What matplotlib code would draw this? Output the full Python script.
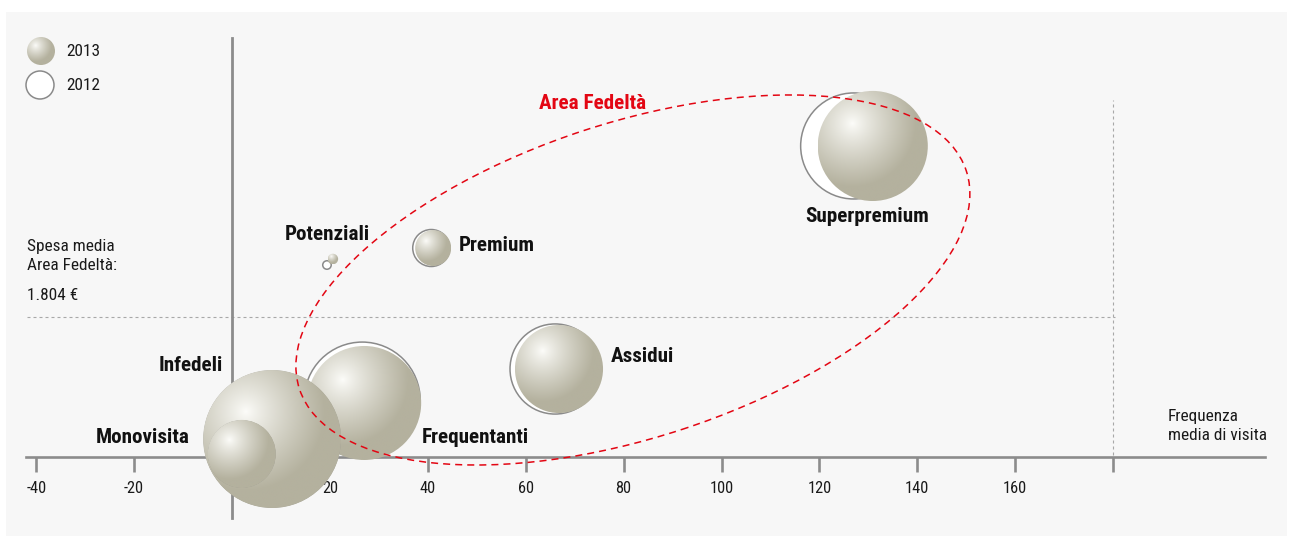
import numpy as np
import matplotlib
matplotlib.use('Agg')
import matplotlib.pyplot as plt
import matplotlib.transforms as mtransforms
from matplotlib.patches import Circle, Ellipse, Rectangle
from matplotlib.ticker import FixedLocator, FixedFormatter
from matplotlib import font_manager

names = {f.name for f in font_manager.fontManager.ttflist}
cond = [n for n in ['Roboto Condensed', 'Liberation Sans Narrow', 'DejaVu Sans Condensed',
                    'Roboto'] if n in names]
plt.rcParams['font.family'] = cond + ['DejaVu Sans']
plt.rcParams['axes.unicode_minus'] = False

# segmenti clienti: frequenza media di visita (x), spesa media in euro (y),
# numero clienti (area della bolla)
segmenti = ['Monovisita', 'Infedeli', 'Frequentanti', 'Assidui',
            'Potenziali', 'Premium', 'Superpremium']
freq_2013 = [2.0, 8.2, 27.0, 66.8, 20.6, 41.1, 130.9]
spesa_2013 = [39, 232, 696, 1134, 2551, 2693, 4008]
clienti_2013 = [11.6, 47.6, 32.5, 19.4, 0.28, 3.24, 30.3]
freq_2012 = [2.0, 8.2, 26.6, 66.0, 19.4, 40.7, 127.0]
spesa_2012 = [39, 232, 734, 1134, 2474, 2693, 4008]
clienti_2012 = [10.9, 46.2, 33.6, 20.3, 0.18, 3.42, 28.1]

spesa_media_fedelta = 1804
tick_vals = [-40, -20, 20, 40, 60, 80, 100, 120, 140, 160, 180]
tick_labels = ['-40', '-20', '20', '40', '60', '80', '100', '120', '140', '160', '']

W, H = 1293, 539
fig = plt.figure(figsize=(W / 100, H / 100), dpi=100)
fig.patch.set_facecolor('white')
ax = fig.add_axes([0, 0, 1, 1])
ax.patch.set_visible(False)

# pannello grigio chiaro
ax.add_patch(Rectangle((6 / W, 1 - 536 / H), (1287 - 6) / W, (536 - 12) / H,
                       transform=fig.transFigure, facecolor='#f7f7f7',
                       edgecolor='none', zorder=0))

AX_COL = '#8c8c8c'
for s in ['top', 'right']:
    ax.spines[s].set_visible(False)
ax.spines['bottom'].set_position(('data', 0))
ax.spines['bottom'].set_bounds(-42, 211)
ax.spines['bottom'].set_color(AX_COL)
ax.spines['bottom'].set_linewidth(1.9)
ax.spines['left'].set_position(('data', 0))
ax.spines['left'].set_bounds(-786, 5400)
ax.spines['left'].set_color(AX_COL)
ax.spines['left'].set_linewidth(2.0)
ax.yaxis.set_visible(False)
ax.xaxis.set_major_locator(FixedLocator(tick_vals))
ax.xaxis.set_major_formatter(FixedFormatter(tick_labels))
ax.tick_params(axis='x', direction='out', length=11, width=1.9, color=AX_COL,
               pad=6, labelsize=11.8, labelcolor='#1a1a1a')

# linee tratteggiate di riferimento
ax.plot([-41.9, 180.4], [spesa_media_fedelta, spesa_media_fedelta], color='#a8a8a8',
        lw=0.8, linestyle=(0, (2.7, 2.7)), zorder=1)
ax.plot([180, 180], [26, 4600], color='#a8a8a8', lw=0.8,
        linestyle=(0, (2.7, 2.7)), zorder=1)

# sfera con riflesso
base = np.array([180, 177, 158]) / 255
hi = np.array([253, 253, 250]) / 255
n = 200
u, v = np.meshgrid(np.linspace(-1, 1, n), np.linspace(-1, 1, n))
d = np.sqrt((u + 0.38) ** 2 + (v - 0.4) ** 2)
t = np.clip(d / 1.15, 0, 1) ** 0.85
sphere_img = hi * (1 - t[..., None]) + base * t[..., None]


def trans_at(x, y, ref):
    return fig.dpi_scale_trans + mtransforms.ScaledTranslation(x, y, ref)


def sphere(x, y, r_px, ref, z):
    r = r_px / 100
    tr = trans_at(x, y, ref)
    im = ax.imshow(sphere_img, extent=(-r, r, -r, r), origin='lower',
                   transform=tr, zorder=z, aspect='auto', interpolation='bilinear')
    im.set_clip_path(Circle((0, 0), r, transform=tr))


def outline(x, y, r_px, ref, z):
    ax.add_patch(Circle((0, 0), r_px / 100, transform=trans_at(x, y, ref),
                        facecolor='white', edgecolor='#8a8a8a', lw=1.1, zorder=z))


order = [2, 1, 0, 3, 4, 5, 6]
for k, i in enumerate(order):
    outline(freq_2012[i], spesa_2012[i], 10 * np.sqrt(clienti_2012[i]), ax.transData, 3 + 2 * k)
    sphere(freq_2013[i], spesa_2013[i], 10 * np.sqrt(clienti_2013[i]), ax.transData, 4 + 2 * k)

# area fedelta
ax.add_patch(Ellipse((0, 0), 7.016, 3.146, angle=18.1,
                     transform=trans_at(81.9, 2281, ax.transData),
                     facecolor='none', edgecolor='#e30613', lw=1.1,
                     linestyle=(0, (4.6, 3.3)), zorder=30))

bold = dict(fontsize=15.2, fontweight='bold', color='#111111', zorder=31)
ax.text(73.7, 4560, 'Area Fedeltà', ha='center', va='center',
        **{**bold, 'color': '#e30613'})
ax.text(129.7, 3093, 'Superpremium', ha='center', va='center', **bold)
ax.text(19.4, 2861, 'Potenziali', ha='center', va='center', **bold)
ax.text(46.4, 2719, 'Premium', ha='left', va='center', **bold)
ax.text(77.4, 1301, 'Assidui', ha='left', va='center', **bold)
ax.text(-1.8, 1185, 'Infedeli', ha='right', va='center', **bold)
ax.text(-8.6, 245, 'Monovisita', ha='right', va='center', **bold)
ax.text(38.8, 245, 'Frequentanti', ha='left', va='center', **bold)

reg = dict(fontsize=12.4, color='#1a1a1a')
fig.text(27 / W, 1 - 256 / H, 'Spesa media\nArea Fedeltà:', ha='left', va='center',
         linespacing=1.38, **reg)
fig.text(27 / W, 1 - 296 / H, '1.804 €', ha='left', va='center', **reg)
fig.text(1168 / W, 1 - 426 / H, 'Frequenza\nmedia di visita', ha='left', va='center',
         linespacing=1.38, **reg)

# legenda
sphere(41 / W, 1 - 51 / H, 14, fig.transFigure, 40)
outline(40 / W, 1 - 85 / H, 14, fig.transFigure, 40)
fig.text(66 / W, 1 - 51 / H, '2013', ha='left', va='center', **reg)
fig.text(66 / W, 1 - 85 / H, '2012', ha='left', va='center', **reg)

ax.set_xlim(-232 / 4.895, (W - 232) / 4.895)
ax.set_ylim(-(H - 457) * 12.886, 457 * 12.886)

fig.savefig('out.png', dpi=100, facecolor=fig.get_facecolor())
